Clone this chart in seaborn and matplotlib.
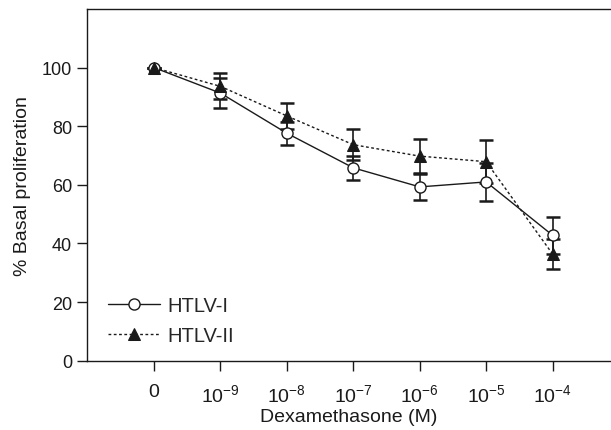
import matplotlib
matplotlib.use("Agg")
import matplotlib.pyplot as plt
import seaborn as sns
import numpy as np
import pandas as pd

# Data
x_labels = ["0", "$10^{-9}$", "$10^{-8}$", "$10^{-7}$", "$10^{-6}$", "$10^{-5}$", "$10^{-4}$"]
x_pos = [0, 1, 2, 3, 4, 5, 6]
htlv1_mean = [100, 91.3, 77.6, 65.8, 59.3, 61.0, 42.8]
htlv1_err = [0, 5.2, 4.0, 4.2, 4.5, 6.5, 6.4]
htlv2_mean = [100, 93.6, 83.5, 73.7, 69.8, 67.9, 36.4]
htlv2_err = [0, 4.4, 4.3, 5.3, 5.8, 7.3, 5.0]

sns.set_theme(style="white")
plt.rcParams["font.family"] = ["Liberation Sans", "DejaVu Sans"]
plt.rcParams["mathtext.fontset"] = "custom"
plt.rcParams["mathtext.rm"] = "Liberation Sans"
plt.rcParams["mathtext.it"] = "Liberation Sans"
plt.rcParams["mathtext.default"] = "regular"

fig = plt.figure(figsize=(6.11, 4.31), dpi=100)
ax = fig.add_axes([87/611, (431-361.7)/431, 1-87/611, (361.7-10)/431])

df1 = pd.DataFrame({"x": x_pos, "y": htlv1_mean})
df2 = pd.DataFrame({"x": x_pos, "y": htlv2_mean})

col = "#1a1a1a"
# error bars
ax.errorbar(x_pos, htlv1_mean, yerr=htlv1_err, fmt="none", ecolor=col,
            elinewidth=1.2, capsize=5, capthick=1.8, zorder=2)
ax.errorbar(x_pos, htlv2_mean, yerr=htlv2_err, fmt="none", ecolor=col,
            elinewidth=1.2, capsize=5, capthick=1.8, zorder=2)

sns.lineplot(data=df1, x="x", y="y", ax=ax, color=col, linewidth=1.0,
             marker="o", markersize=8, markerfacecolor="white",
             markeredgecolor=col, markeredgewidth=1.0, label="HTLV-I", zorder=3)
sns.lineplot(data=df2, x="x", y="y", ax=ax, color=col, linewidth=1.0,
             marker="^", markersize=8.5, markerfacecolor=col,
             markeredgecolor=col, dashes=(2, 1.8), label="HTLV-II", zorder=4)

ax.set_xlim(-1.01, 6.88)
ax.set_ylim(0, 120)
ax.set_xticks(x_pos)
ax.set_xticklabels(x_labels)
ax.set_yticks([0, 20, 40, 60, 80, 100])
ax.tick_params(axis="both", direction="out", length=7.2, width=1.0, color=col,
               labelsize=13, labelcolor=col, pad=3.5, bottom=True, left=True)
ax.tick_params(axis="x", pad=9, labelsize=14)

for s in ["left", "bottom", "top"]:
    ax.spines[s].set_color(col)
    ax.spines[s].set_linewidth(1.0)
ax.spines["right"].set_visible(False)

ax.set_xlabel("Dexamethasone (M)", fontsize=14, color=col, labelpad=2)
ax.set_ylabel("% Basal proliferation", fontsize=14, color=col, labelpad=8)

leg = ax.legend(loc="upper left", bbox_to_anchor=(0.005, 0.235), frameon=False,
                fontsize=14.5, handlelength=2.6, handletextpad=0.35, labelspacing=0.55)

fig.savefig("out.png", dpi=100)
